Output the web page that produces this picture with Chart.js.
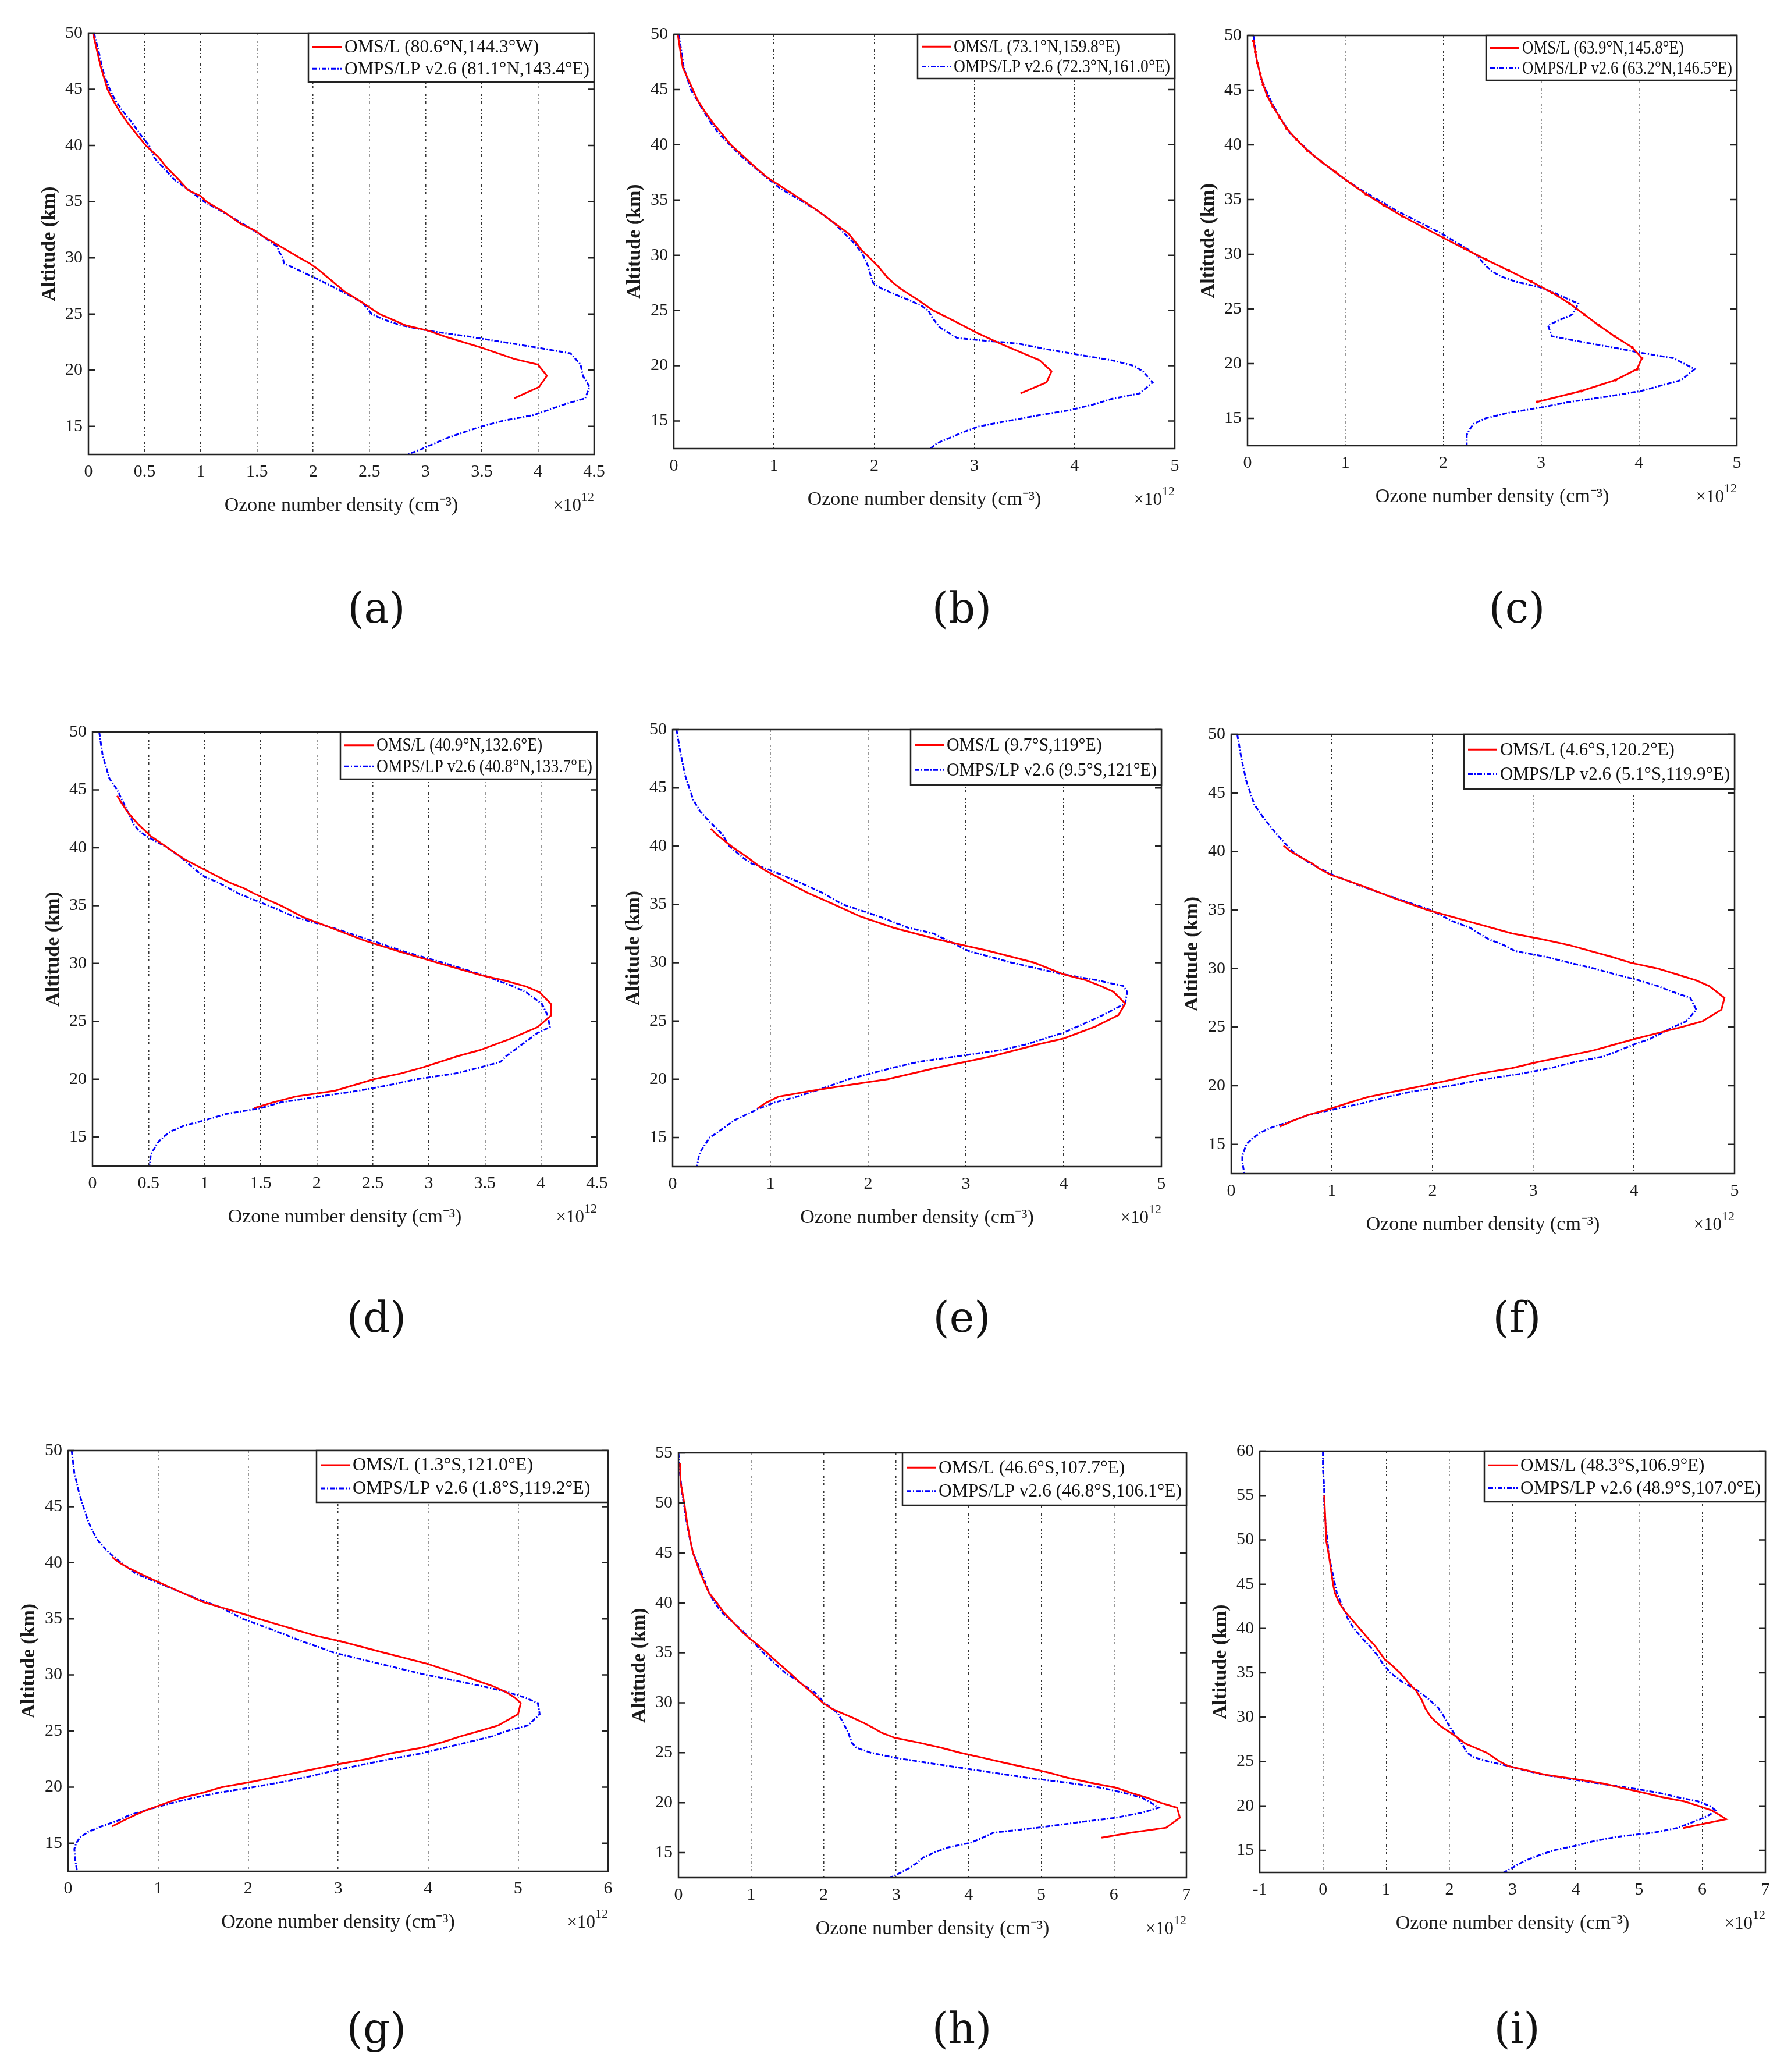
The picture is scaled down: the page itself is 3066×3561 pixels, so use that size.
<!DOCTYPE html>
<html>
<head>
<meta charset="utf-8">
<script src="https://cdn.jsdelivr.net/npm/chart.js@4.4.1/dist/chart.umd.min.js"></script>
<style>
  body { margin: 0; background: #fff; }
  #page { position: relative; width: 3066px; height: 3561px; background: #fff; overflow: hidden; }
  canvas { position: absolute; }
  .tag { position: absolute; font-family: 'DejaVu Serif', serif; font-size: 72px; color: #111; transform: translate(-50%, -50%); }
</style>
</head>
<body>
<div id="page"></div>
<script>
// panel ids and legend texts
const panelIds = ['a', 'b', 'c', 'd', 'e', 'f', 'g', 'h', 'i'];
const omsLabels = ['OMS/L (80.6°N,144.3°W)', 'OMS/L (73.1°N,159.8°E)', 'OMS/L (63.9°N,145.8°E)',
                   'OMS/L (40.9°N,132.6°E)', 'OMS/L (9.7°S,119°E)', 'OMS/L (4.6°S,120.2°E)',
                   'OMS/L (1.3°S,121.0°E)', 'OMS/L (46.6°S,107.7°E)', 'OMS/L (48.3°S,106.9°E)'];
const ompsLabels = ['OMPS/LP v2.6 (81.1°N,143.4°E)', 'OMPS/LP v2.6 (72.3°N,161.0°E)', 'OMPS/LP v2.6 (63.2°N,146.5°E)',
                    'OMPS/LP v2.6 (40.8°N,133.7°E)', 'OMPS/LP v2.6 (9.5°S,121°E)', 'OMPS/LP v2.6 (5.1°S,119.9°E)',
                    'OMPS/LP v2.6 (1.8°S,119.2°E)', 'OMPS/LP v2.6 (46.8°S,106.1°E)', 'OMPS/LP v2.6 (48.9°S,107.0°E)'];

// axis ranges (x in 10^12 cm^-3, y in km)
const xMin = [0, 0, 0, 0, 0, 0, 0, 0, -1];
const xMax = [4.5, 5, 5, 4.5, 5, 5, 6, 7, 7];
const xStep = [0.5, 1, 1, 0.5, 1, 1, 1, 1, 1];
const yMin = [12.5, 12.5, 12.5, 12.5, 12.5, 12.5, 12.5, 12.5, 12.5];
const yMax = [50, 50, 50, 50, 50, 50, 50, 55, 60];

// profiles: [altitude km, density x10^12]
const oms_a = [[50,0.04],[47,0.11],[45,0.17],[44,0.22],[43,0.28],[42,0.35],[41,0.43],[40,0.51],[39,0.62],[38,0.7],[37,0.8],[36,0.89],[35.5,1.0],[35,1.05],[34,1.22],[33,1.36],[32.5,1.47],[32,1.54],[31,1.71],[30,1.88],[29.5,1.97],[29,2.04],[28,2.16],[27,2.28],[26,2.44],[25,2.59],[24,2.82],[23.5,3.03],[23,3.17],[22,3.5],[21,3.79],[20.5,4.0],[19.5,4.08],[18.5,4.01],[17.5,3.79]];
const omps_a = [[50,0.05],[48,0.1],[47,0.12],[46,0.15],[45,0.19],[44,0.24],[43,0.31],[42,0.39],[41,0.46],[40.5,0.5],[40,0.54],[39,0.58],[38.5,0.62],[38,0.67],[37,0.76],[36,0.9],[35,1.03],[34,1.21],[33,1.38],[32,1.54],[31.5,1.61],[31,1.68],[30.5,1.7],[30,1.73],[29.5,1.74],[29,1.85],[28,2.06],[27,2.26],[26,2.44],[25,2.52],[24.5,2.63],[24,2.78],[23.5,3.03],[23,3.38],[22,4.0],[21.5,4.29],[20.5,4.38],[19.5,4.4],[18.5,4.46],[17.5,4.42],[17,4.25],[16,3.96],[15.5,3.69],[15,3.5],[14,3.2],[13,2.97],[12.5,2.84]];

const oms_b = [[50,0.04],[47,0.09],[45,0.19],[44,0.24],[43,0.31],[42,0.39],[41,0.48],[40,0.57],[39,0.69],[38,0.81],[37,0.94],[36,1.11],[35,1.28],[34,1.44],[33,1.59],[32,1.74],[31,1.83],[30.5,1.87],[30,1.93],[29,2.04],[28,2.13],[27.5,2.19],[27,2.26],[26,2.43],[25,2.59],[24,2.81],[23,3.02],[22,3.26],[21,3.52],[20.5,3.65],[19.5,3.77],[18.5,3.72],[17.5,3.46]];
const omps_b = [[50,0.05],[47,0.1],[45,0.17],[43,0.3],[42,0.37],[41,0.45],[40,0.56],[39,0.67],[38,0.8],[37,0.93],[36,1.07],[35,1.26],[34,1.44],[33,1.59],[32,1.7],[31,1.81],[30,1.89],[29,1.94],[28,1.97],[27.5,1.99],[27,2.07],[26.5,2.2],[26,2.33],[25.5,2.46],[25,2.54],[24.5,2.57],[24,2.61],[23.5,2.65],[23,2.74],[22.5,2.83],[22,3.44],[21.5,3.72],[21,4.04],[20.5,4.37],[20,4.59],[19.5,4.68],[18.5,4.78],[17.5,4.65],[17,4.37],[16.5,4.19],[16,3.96],[15.5,3.63],[15,3.33],[14.5,3.04],[14,2.89],[13.5,2.76],[13,2.63],[12.5,2.56]];

const oms_c = [[49.5,0.06],[48.5,0.08],[47.5,0.1],[46.5,0.13],[45.5,0.16],[44.5,0.2],[43.5,0.26],[42.5,0.33],[41.5,0.4],[40.5,0.5],[39.5,0.61],[38.5,0.75],[37.5,0.9],[36.5,1.05],[35.5,1.21],[34.5,1.39],[33.5,1.58],[32.5,1.79],[31.5,2.0],[30.5,2.22],[29.5,2.44],[28.5,2.67],[27.5,2.9],[26.5,3.11],[25.5,3.29],[24.5,3.44],[23.5,3.59],[22.5,3.75],[21.5,3.93],[20.5,4.03],[19.5,3.98],[18.5,3.76],[17.5,3.41],[16.5,2.96]];
const omps_c = [[50,0.06],[48,0.09],[46,0.14],[45,0.19],[44,0.24],[43,0.3],[42,0.37],[41,0.44],[40,0.56],[39,0.68],[38,0.82],[37,0.97],[36,1.14],[35,1.33],[34,1.52],[33,1.74],[32,1.96],[31,2.15],[30,2.33],[29,2.43],[28.5,2.49],[28,2.58],[27.5,2.74],[27,2.98],[26.5,3.13],[26,3.25],[25.5,3.38],[24.5,3.32],[24,3.19],[23.5,3.07],[22.5,3.11],[22,3.41],[21.5,3.72],[21,4.02],[20.5,4.35],[19.5,4.57],[18.5,4.43],[17.5,4.02],[17,3.68],[16.5,3.29],[16,3.0],[15.5,2.66],[15,2.43],[14.5,2.31],[14,2.27],[13.5,2.24],[12.5,2.24]];

const oms_d = [[44.5,0.22],[44,0.25],[43,0.32],[42,0.41],[41,0.52],[40,0.67],[39,0.82],[38,1.02],[37,1.22],[36.5,1.35],[36,1.45],[35,1.68],[34,1.88],[33,2.15],[32,2.42],[31,2.75],[30,3.1],[29,3.46],[28.5,3.69],[28,3.87],[27.5,3.99],[26.5,4.09],[25.5,4.09],[24.5,3.97],[24,3.85],[23.5,3.73],[23,3.59],[22.5,3.45],[22,3.26],[21,2.94],[20.5,2.75],[20,2.51],[19,2.16],[18.5,1.81],[18,1.61],[17.5,1.44]];
const omps_d = [[50,0.06],[48,0.09],[47,0.12],[46,0.15],[45,0.22],[44,0.27],[43,0.32],[42,0.37],[41.5,0.41],[41,0.48],[40,0.67],[39,0.81],[38,0.93],[37.5,1.0],[37,1.12],[36,1.31],[35,1.57],[34,1.81],[33,2.17],[32,2.48],[31,2.79],[30,3.15],[29,3.48],[28,3.76],[27.5,3.87],[26.5,4.01],[25.5,4.06],[24.5,4.08],[24,3.97],[23,3.83],[22,3.69],[21.5,3.64],[21,3.45],[20.5,3.24],[20,2.89],[19.5,2.65],[19,2.37],[18.5,2.02],[18,1.68],[17.5,1.5],[17,1.19],[16.5,1.02],[16,0.82],[15.5,0.7],[15,0.63],[14.5,0.58],[14,0.55],[13.5,0.52],[12.5,0.51]];

const oms_e = [[41.5,0.39],[41,0.45],[40,0.6],[39,0.77],[38,0.93],[37,1.15],[36,1.38],[35,1.65],[34,1.91],[33,2.26],[32,2.71],[31,3.24],[30,3.7],[29,4.0],[28.5,4.23],[28,4.38],[27.5,4.51],[26.5,4.63],[25.5,4.56],[24.5,4.32],[23.5,4.0],[23,3.74],[22,3.28],[21.5,3.0],[21,2.71],[20,2.2],[19.5,1.8],[19,1.42],[18.5,1.08],[18,0.96],[17.5,0.87]];
const omps_e = [[50,0.04],[48,0.08],[46,0.13],[45,0.17],[44,0.21],[43,0.28],[42,0.39],[41,0.51],[40,0.58],[39,0.72],[38.5,0.81],[38,0.98],[37,1.27],[36,1.53],[35,1.74],[34,2.1],[33,2.41],[32.5,2.67],[32,2.79],[31,3.03],[30,3.47],[29,4.0],[28.5,4.34],[28,4.61],[27.5,4.65],[26.5,4.63],[25.5,4.4],[25,4.27],[24,4.0],[23,3.62],[22.5,3.36],[22,2.94],[21.5,2.52],[21,2.26],[20.5,2.03],[20,1.8],[19,1.46],[18.5,1.27],[18,1.04],[17.5,0.89],[17,0.76],[16.5,0.64],[16,0.55],[15.5,0.47],[15,0.38],[14.5,0.34],[14,0.3],[13.5,0.27],[12.5,0.25]];

const oms_f = [[40.5,0.52],[40,0.59],[39.5,0.69],[39,0.8],[38.5,0.88],[38,0.99],[37.5,1.16],[37,1.32],[36,1.62],[35,1.95],[34,2.37],[33,2.79],[32.5,3.09],[32,3.36],[31,3.78],[30.5,3.97],[30,4.24],[29.5,4.43],[29,4.62],[28.5,4.75],[27.5,4.9],[26.5,4.87],[25.5,4.68],[25,4.47],[24.5,4.24],[24,4.01],[23.5,3.8],[23,3.59],[22,3.03],[21.5,2.79],[21,2.44],[20.5,2.18],[20,1.91],[19.5,1.62],[19,1.34],[18.5,1.15],[18,0.97],[17.5,0.76],[17,0.61],[16.5,0.48]];
const omps_f = [[50,0.06],[48,0.1],[46,0.15],[45,0.19],[44,0.23],[43,0.31],[42,0.4],[41,0.5],[40,0.61],[39,0.78],[38,1.01],[37,1.3],[36,1.64],[35,1.98],[34,2.21],[33.5,2.37],[33,2.46],[32.5,2.56],[32,2.71],[31.5,2.82],[31,3.13],[30.5,3.36],[30,3.61],[29.5,3.82],[29,4.05],[28.5,4.24],[28,4.39],[27.5,4.56],[26.5,4.62],[25.5,4.52],[25,4.39],[24,4.16],[23.5,3.99],[23,3.85],[22.5,3.7],[22,3.4],[21.5,3.17],[21,2.86],[20.5,2.48],[20,2.18],[19.5,1.79],[19,1.53],[18.5,1.3],[18,1.03],[17.5,0.76],[17,0.61],[16.5,0.42],[16,0.29],[15.5,0.21],[15,0.15],[14.5,0.13],[14,0.11],[13.5,0.11],[12.5,0.13]];

const oms_g = [[40.5,0.49],[40,0.57],[39.5,0.68],[39,0.81],[38.5,0.94],[38,1.08],[37.5,1.22],[37,1.36],[36.5,1.5],[36,1.71],[35.5,1.92],[35,2.12],[34.5,2.33],[34,2.54],[33.5,2.75],[33,3.03],[32,3.5],[31,3.99],[30,4.37],[29.5,4.54],[29,4.72],[28.5,4.86],[28,4.96],[27.5,5.03],[26.5,5.0],[25.5,4.78],[25,4.57],[24.5,4.35],[24,4.16],[23.5,3.92],[23,3.58],[22.5,3.32],[22,2.97],[21.5,2.67],[21,2.36],[20.5,2.06],[20,1.71],[19.5,1.5],[19,1.24],[18.5,1.06],[18,0.89],[17.5,0.74],[17,0.61],[16.5,0.49]];
const omps_g = [[50,0.04],[48,0.07],[46,0.13],[45,0.17],[44,0.21],[43,0.26],[42,0.33],[41,0.44],[40,0.59],[39,0.76],[38,1.06],[37,1.37],[36,1.7],[35,1.94],[34,2.28],[33,2.6],[32.5,2.78],[32,2.95],[31.5,3.2],[31,3.46],[30.5,3.72],[30,3.98],[29.5,4.3],[29,4.6],[28.5,4.87],[28,5.07],[27.5,5.22],[26.5,5.24],[25.5,5.11],[25,4.87],[24.5,4.7],[24,4.44],[23.5,4.18],[23,3.92],[22.5,3.58],[22,3.27],[21.5,2.97],[21,2.71],[20.5,2.41],[20,2.06],[19.5,1.67],[19,1.37],[18.5,1.11],[18,0.89],[17.5,0.68],[17,0.55],[16.5,0.37],[16,0.22],[15.5,0.13],[15,0.09],[14.5,0.07],[13.5,0.08],[12.5,0.1]];

const oms_h = [[54,0.02],[52,0.03],[50,0.08],[48,0.12],[46,0.17],[45,0.2],[44,0.25],[43,0.3],[42,0.36],[41,0.42],[40,0.53],[39,0.63],[38,0.76],[37,0.89],[36.5,0.97],[36,1.06],[35,1.22],[34,1.37],[33,1.53],[32,1.68],[31,1.84],[30,1.99],[29.5,2.09],[29,2.24],[28.5,2.4],[28,2.55],[27.5,2.68],[27,2.8],[26.5,2.98],[26,3.32],[25.5,3.62],[25,3.88],[24.5,4.19],[24,4.49],[23.5,4.8],[23,5.11],[22.5,5.36],[22,5.67],[21.5,6.03],[21,6.23],[20.5,6.46],[20,6.64],[19.5,6.87],[18.5,6.91],[17.5,6.72],[17,6.23],[16.5,5.83]];
const omps_h = [[55,0.0],[53,0.02],[51,0.05],[49,0.09],[47,0.14],[45,0.2],[44,0.26],[43,0.32],[42,0.37],[41,0.42],[40,0.5],[39,0.6],[38,0.76],[37,0.91],[36,1.04],[35,1.17],[34,1.32],[33,1.47],[32,1.68],[31,1.88],[30,2.01],[29,2.19],[28,2.27],[27,2.34],[26,2.39],[25.5,2.45],[25,2.65],[24.5,2.98],[24,3.42],[23.5,3.88],[23,4.34],[22.5,4.8],[22,5.36],[21.5,5.82],[21,6.13],[20.5,6.39],[20,6.51],[19.5,6.62],[19,6.39],[18.5,6.03],[18,5.47],[17.5,4.95],[17,4.34],[16.5,4.19],[16,4.03],[15.5,3.7],[15,3.52],[14.5,3.37],[14,3.29],[13.5,3.19],[13,3.06],[12.5,2.92]];

const oms_i = [[55,0.02],[52,0.04],[50,0.05],[48,0.1],[46,0.14],[45,0.16],[44,0.19],[43,0.25],[42,0.34],[41,0.46],[40,0.58],[39,0.7],[38,0.83],[37,0.93],[36.5,0.98],[36,1.07],[35,1.22],[34,1.34],[33,1.47],[32,1.56],[31,1.62],[30,1.71],[29,1.86],[28,2.07],[27,2.26],[26,2.59],[25,2.8],[24.5,2.93],[24,3.23],[23.5,3.53],[23,4.02],[22.5,4.45],[22,4.75],[21.5,5.06],[21,5.36],[20.5,5.72],[20,5.94],[19.5,6.15],[19,6.27],[18.5,6.38],[18,6.03],[17.5,5.7]];
const omps_i = [[60,0.0],[58,0.0],[56,0.02],[54,0.02],[52,0.04],[50,0.07],[48,0.1],[46,0.16],[45,0.19],[44,0.22],[43,0.28],[42,0.34],[41,0.4],[40,0.49],[39,0.61],[38,0.74],[37,0.86],[36,0.95],[35,1.07],[34,1.25],[33,1.5],[32,1.68],[31,1.83],[30,1.92],[29,2.0],[28,2.09],[27,2.2],[26,2.28],[25.5,2.38],[25,2.62],[24.5,2.93],[24,3.2],[23.5,3.5],[23,3.93],[22.5,4.39],[22,4.87],[21.5,5.3],[21,5.6],[20.5,5.94],[20,6.12],[19.5,6.21],[19,6.12],[18.5,5.97],[18,5.79],[17.5,5.6],[17,5.24],[16.5,4.63],[16,4.27],[15.5,3.99],[15,3.66],[14.5,3.44],[14,3.26],[13.5,3.11],[13,2.99],[12.5,2.86]];

const omsData = [oms_a, oms_b, oms_c, oms_d, oms_e, oms_f, oms_g, oms_h, oms_i];
const ompsData = [omps_a, omps_b, omps_c, omps_d, omps_e, omps_f, omps_g, omps_h, omps_i];

// page layout: plot box [left, top, right, bottom], legend left/bottom, tag centre
const plotBox = [
  [152, 57, 1021, 781], [1158, 59, 2019, 771], [2144, 61, 2985, 766],
  [159, 1258, 1026, 2004], [1156, 1254, 1996, 2005], [2116, 1262, 2981, 2017],
  [117, 2493, 1045, 3216], [1166, 2497, 2039, 3227], [2165, 2494, 3034, 3218]
];
const legendBox = [[530, 141], [1577, 135], [2554, 138], [585, 1339], [1565, 1349], [2516, 1356], [544, 2582], [1551, 2587], [2551, 2581]];
const tagPos = [[647, 1045], [1653, 1045], [2607, 1045], [647, 2264], [1653, 2264], [2607, 2264], [647, 3486], [1653, 3486], [2607, 3486]];

const ML = 150, MT = 30, MR = 50, MB = 130;
const SERIF = "'Liberation Serif', 'Times New Roman', serif";
Chart.defaults.font.family = SERIF;
Chart.defaults.color = '#1a1a1a';

const framePlugin = {
  id: 'frame',
  afterDraw(chart, args, opts) {
    const { ctx, chartArea: a, scales: { y } } = chart;
    ctx.save();
    // inward ticks on both vertical sides
    ctx.strokeStyle = '#222';
    ctx.lineWidth = 2.5;
    y.ticks.forEach(t => {
      const py = y.getPixelForValue(t.value);
      ctx.beginPath();
      ctx.moveTo(a.left, py); ctx.lineTo(a.left + 11, py);
      ctx.moveTo(a.right, py); ctx.lineTo(a.right - 11, py);
      ctx.stroke();
    });
    ctx.strokeRect(a.left, a.top, a.width, a.height);

    // legend box
    const bl = a.left + opts.left, bt = a.top, bh = opts.height;
    ctx.fillStyle = '#fff';
    ctx.fillRect(bl, bt, a.right - bl, bh);
    ctx.strokeRect(bl, bt, a.right - bl, bh);
    ctx.font = '32px ' + SERIF;
    ctx.textBaseline = 'middle';
    const avail = a.right - 8 - (bl + 62);
    const widest = Math.max(...chart.data.datasets.map(ds => ctx.measureText(ds.label).width));
    const squeeze = Math.min(1, avail / widest);
    chart.data.datasets.forEach((ds, k) => {
      const ry = bt + bh * (k === 0 ? 0.28 : 0.73);
      ctx.strokeStyle = ds.borderColor;
      ctx.lineWidth = 3;
      ctx.setLineDash(ds.borderDash || []);
      ctx.beginPath();
      ctx.moveTo(bl + 7, ry); ctx.lineTo(bl + 57, ry);
      ctx.stroke();
      ctx.setLineDash([]);
      if (ds.pointRadius > 0) {
        ctx.fillStyle = ds.borderColor;
        ctx.beginPath(); ctx.arc(bl + 32, ry, ds.pointRadius, 0, Math.PI * 2); ctx.fill();
      }
      ctx.fillStyle = '#111';
      ctx.save();
      ctx.translate(bl + 62, ry + 1);
      ctx.scale(squeeze, 1);
      ctx.fillText(ds.label, 0, 0);
      ctx.restore();
    });

    // x10^12 multiplier
    ctx.fillStyle = '#1a1a1a';
    ctx.textAlign = 'right';
    ctx.textBaseline = 'alphabetic';
    ctx.font = '22px ' + SERIF;
    const w12 = ctx.measureText('12').width;
    ctx.fillText('12', a.right, a.bottom + 80);
    ctx.font = '31px ' + SERIF;
    ctx.fillText('×10', a.right - w12, a.bottom + 97);
    ctx.restore();
  }
};

const page = document.getElementById('page');

panelIds.forEach((id, i) => {
  const [L, T, R, B] = plotBox[i];
  const canvas = document.createElement('canvas');
  canvas.width = R - L + ML + MR;
  canvas.height = B - T + MT + MB;
  canvas.style.left = (L - ML) + 'px';
  canvas.style.top = (T - MT) + 'px';
  canvas.style.width = canvas.width + 'px';
  canvas.style.height = canvas.height + 'px';
  page.appendChild(canvas);

  const isC = id === 'c';
  new Chart(canvas, {
    type: 'scatter',
    data: {
      datasets: [{
        label: omsLabels[i],
        data: omsData[i].map(([alt, d]) => ({ x: d, y: alt })),
        showLine: true,
        borderColor: '#ff0000',
        backgroundColor: '#ff0000',
        borderWidth: 3,
        pointRadius: isC ? 2.5 : 0,
        pointBorderWidth: 0
      }, {
        label: ompsLabels[i],
        data: ompsData[i].map(([alt, d]) => ({ x: d, y: alt })),
        showLine: true,
        borderColor: '#0000ff',
        backgroundColor: '#0000ff',
        borderWidth: 3,
        borderDash: [8, 3, 2, 3],
        pointRadius: 0
      }]
    },
    options: {
      responsive: false,
      animation: false,
      devicePixelRatio: 1,
      layout: { padding: { left: 0, top: MT, right: MR, bottom: 0 } },
      plugins: {
        legend: { display: false },
        tooltip: { enabled: false },
        frame: { left: legendBox[i][0] - L, height: legendBox[i][1] - T }
      },
      scales: {
        x: {
          type: 'linear',
          min: xMin[i], max: xMax[i],
          ticks: { stepSize: xStep[i], padding: 12, font: { family: SERIF, size: 30 }, color: '#1a1a1a',
                   callback: v => String(v) },
          grid: { color: '#333', lineWidth: 1.5, drawTicks: false },
          border: { display: false, dash: [4, 4, 1, 4] },
          title: { display: true, text: 'Ozone number density (cm⁻³)', font: { family: SERIF, size: 34 }, color: '#1a1a1a', padding: { top: 0, bottom: 22 } },
          afterFit: s => { s.height = MB; }
        },
        y: {
          type: 'linear',
          min: yMin[i], max: yMax[i],
          ticks: { stepSize: 5, padding: 10, font: { family: SERIF, size: 30 }, color: '#1a1a1a',
                   callback: v => String(v) },
          afterBuildTicks: s => { s.ticks = s.ticks.filter(t => t.value % 5 === 0); },
          grid: { display: false, drawTicks: false },
          border: { display: false },
          title: { display: true, text: 'Altitude (km)', font: { family: SERIF, size: 34, weight: 'bold' }, color: '#1a1a1a', padding: { top: 63, bottom: 0 } },
          afterFit: s => { s.width = ML; }
        }
      }
    },
    plugins: [framePlugin]
  });

  const tag = document.createElement('div');
  tag.className = 'tag';
  tag.textContent = '(' + id + ')';
  tag.style.left = tagPos[i][0] + 'px';
  tag.style.top = tagPos[i][1] + 'px';
  page.appendChild(tag);
});
</script>
</body>
</html>
